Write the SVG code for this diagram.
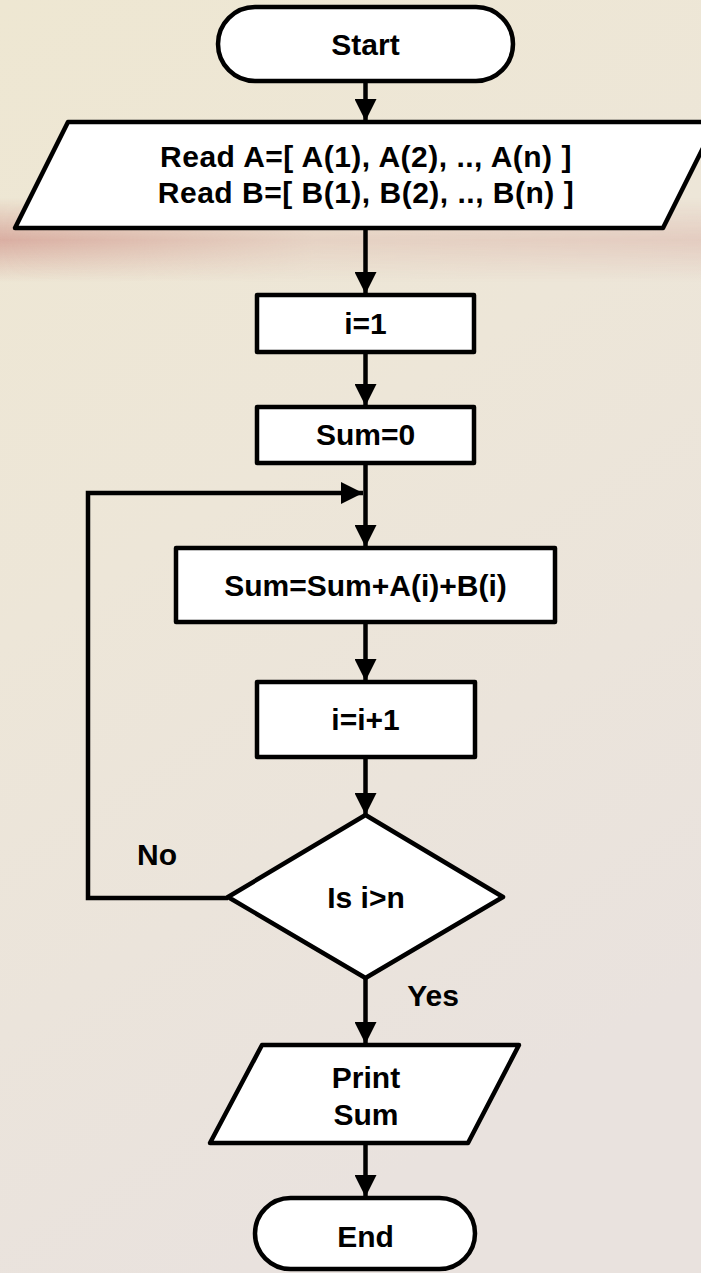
<svg xmlns="http://www.w3.org/2000/svg" width="701" height="1273" viewBox="0 0 701 1273">
  <defs>
    <linearGradient id="bg" x1="0" y1="0" x2="0.35" y2="1">
      <stop offset="0" stop-color="#EEE7D2"/>
      <stop offset="0.45" stop-color="#EDE6D8"/>
      <stop offset="1" stop-color="#E9E2DE"/>
    </linearGradient>
    <linearGradient id="band" x1="0" y1="0" x2="0" y2="1">
      <stop offset="0" stop-color="#C98079" stop-opacity="0"/>
      <stop offset="0.5" stop-color="#C98079" stop-opacity="0.55"/>
      <stop offset="1" stop-color="#C98079" stop-opacity="0"/>
    </linearGradient>
    <linearGradient id="bandFade" x1="0" y1="0" x2="1" y2="0">
      <stop offset="0" stop-color="#fff" stop-opacity="1"/>
      <stop offset="0.45" stop-color="#fff" stop-opacity="0.35"/>
      <stop offset="1" stop-color="#fff" stop-opacity="0.45"/>
    </linearGradient>
    <mask id="bandMask">
      <rect x="0" y="190" width="701" height="100" fill="url(#bandFade)"/>
    </mask>
    <marker id="arrow" viewBox="0 0 22 22" refX="22" refY="11" markerWidth="22" markerHeight="22" markerUnits="userSpaceOnUse" orient="auto">
      <path d="M0,0 L22,11 L0,22 Z" fill="#000"/>
    </marker>
    <style>
      .shape { fill: #fff; stroke: #000; stroke-width: 4.5; stroke-linejoin: round; }
      .edge { fill: none; stroke: #000; stroke-width: 4.5; }
      .label { font-family: "Liberation Sans", Arial, sans-serif; font-weight: bold; font-size: 30px; fill: #000; text-anchor: middle; }
      .wide { letter-spacing: 0.5px; }
    </style>
  </defs>

  <!-- backdrop -->
  <rect x="0" y="0" width="701" height="1273" fill="url(#bg)"/>
  <rect x="0" y="198" width="701" height="84" fill="url(#band)" mask="url(#bandMask)"/>

  <!-- connectors -->
  <g id="connectors">
    <line class="edge" x1="365.5" y1="81" x2="365.5" y2="121" marker-end="url(#arrow)"/>
    <line class="edge" x1="365.5" y1="228" x2="365.5" y2="294" marker-end="url(#arrow)"/>
    <line class="edge" x1="365.5" y1="352" x2="365.5" y2="406" marker-end="url(#arrow)"/>
    <line class="edge" x1="365.5" y1="463" x2="365.5" y2="547" marker-end="url(#arrow)"/>
    <line class="edge" x1="365.5" y1="622" x2="365.5" y2="681" marker-end="url(#arrow)"/>
    <line class="edge" x1="365.5" y1="757" x2="365.5" y2="815" marker-end="url(#arrow)"/>
    <polyline class="edge" points="228,898 88,898 88,493 363,493" marker-end="url(#arrow)"/>
    <line class="edge" x1="365.5" y1="978" x2="365.5" y2="1044" marker-end="url(#arrow)"/>
    <line class="edge" x1="365.5" y1="1143" x2="365.5" y2="1197" marker-end="url(#arrow)"/>
    <text class="label" x="157" y="865">No</text>
    <text class="label" x="433" y="1006">Yes</text>
  </g>

  <g id="start">
    <rect class="shape" x="218" y="7" width="295" height="74" rx="37" ry="37"/>
    <text class="label" x="365.5" y="55">Start</text>
  </g>

  <g id="read">
    <polygon class="shape" points="68,122 716,122 663,228 15,228"/>
    <text class="label wide" x="366" y="167">Read A=[ A(1), A(2), .., A(n) ]</text>
    <text class="label wide" x="366" y="203">Read B=[ B(1), B(2), .., B(n) ]</text>
  </g>

  <g id="init-i">
    <rect class="shape" x="257" y="295" width="217" height="57"/>
    <text class="label" x="365.5" y="334">i=1</text>
  </g>

  <g id="init-sum">
    <rect class="shape" x="257" y="407" width="217" height="56"/>
    <text class="label" x="365.5" y="445">Sum=0</text>
  </g>

  <g id="accumulate">
    <rect class="shape" x="176" y="548" width="379" height="74"/>
    <text class="label" x="365.5" y="596">Sum=Sum+A(i)+B(i)</text>
  </g>

  <g id="increment">
    <rect class="shape" x="257" y="682" width="218" height="75"/>
    <text class="label" x="365.5" y="730">i=i+1</text>
  </g>

  <g id="decision">
    <polygon class="shape" points="365.5,815 503,897 365.5,978 228,897"/>
    <text class="label" x="366" y="908">Is i&gt;n</text>
  </g>

  <g id="print">
    <polygon class="shape" points="262,1045 519,1045 468,1143 210,1143"/>
    <text class="label" x="366" y="1088">Print</text>
    <text class="label" x="366" y="1125">Sum</text>
  </g>

  <g id="end">
    <rect class="shape" x="255" y="1198" width="220" height="71" rx="35.5" ry="35.5"/>
    <text class="label" x="365.5" y="1247">End</text>
  </g>
</svg>
